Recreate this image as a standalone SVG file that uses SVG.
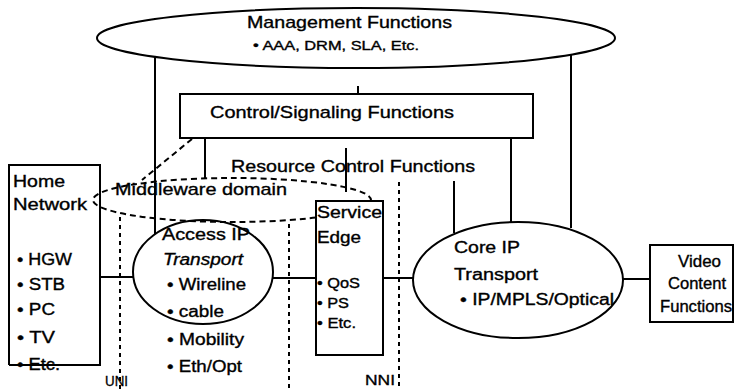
<svg xmlns="http://www.w3.org/2000/svg" width="735" height="390" viewBox="0 0 735 390">
<style>
text{font-family:"Liberation Sans",Arial,sans-serif;fill:#000;stroke:#000;stroke-width:0.35}
.s{fill:none;stroke:#000;stroke-width:2}
.w{fill:#fff;stroke:#000;stroke-width:2}
.dash{fill:none;stroke:#000;stroke-width:2;stroke-dasharray:6 4}
.dot{fill:none;stroke:#000;stroke-width:2;stroke-dasharray:4 4}
.t17{font-size:17px}
.t16{font-size:16px}
.t15{font-size:15px}
.t14{font-size:14px}
.t13{font-size:13px}
</style>
<rect width="735" height="390" fill="#fff"/>
<g id="connectors">
  <line class="s" x1="155" y1="57" x2="155" y2="234"/>
  <line class="s" x1="571" y1="55" x2="571" y2="228"/>
  <line class="s" x1="358" y1="86" x2="358" y2="95"/>
  <line class="s" x1="205" y1="138" x2="205" y2="178"/>
  <line class="s" x1="511" y1="138" x2="511" y2="222"/>
  <line class="s" x1="346" y1="148" x2="346" y2="192"/>
  <line class="s" x1="454" y1="181" x2="454" y2="233"/>
  <line class="dash" x1="192" y1="139" x2="142" y2="180"/>
  <line class="s" x1="100" y1="277" x2="133" y2="277"/>
  <line class="s" x1="272" y1="278" x2="316" y2="278"/>
  <line class="s" x1="383" y1="278" x2="414" y2="278"/>
  <line class="s" x1="623" y1="279" x2="650" y2="279"/>
  <line class="dot" x1="120" y1="217" x2="120" y2="390"/>
  <line class="dot" x1="289" y1="224" x2="289" y2="390"/>
  <line class="dot" x1="399" y1="182" x2="399" y2="390"/>
</g>
<g id="management">
  <ellipse class="s" cx="356" cy="38" rx="259" ry="30"/>
  <text class="t17" x="247" y="28" textLength="205" lengthAdjust="spacingAndGlyphs">Management Functions</text>
  <text class="t13" x="253" y="50" textLength="166" lengthAdjust="spacingAndGlyphs">• AAA, DRM, SLA, Etc.</text>
</g>
<g id="control">
  <rect class="w" x="180" y="94" width="353" height="44"/>
  <text class="t17" x="210" y="118" textLength="244" lengthAdjust="spacingAndGlyphs">Control/Signaling Functions</text>
</g>
<g id="resource">
  <text class="t17" x="231" y="172" textLength="244" lengthAdjust="spacingAndGlyphs">Resource Control Functions</text>
</g>
<g id="middleware">
  <ellipse class="dash" cx="232" cy="200" rx="139" ry="22"/>
  <text class="t17" x="115" y="195" textLength="172" lengthAdjust="spacingAndGlyphs">Middleware domain</text>
</g>
<g id="home">
  <polyline class="s" points="9,365 9,165 100,165 100,365 9,365"/>
  <text class="t16" x="13" y="187" textLength="52" lengthAdjust="spacingAndGlyphs">Home</text>
  <text class="t16" x="13" y="210" textLength="74" lengthAdjust="spacingAndGlyphs">Network</text>
  <text class="t16" x="17" y="265" textLength="55" lengthAdjust="spacingAndGlyphs">• HGW</text>
  <text class="t16" x="17" y="290" textLength="48" lengthAdjust="spacingAndGlyphs">• STB</text>
  <text class="t16" x="17" y="315" textLength="38" lengthAdjust="spacingAndGlyphs">• PC</text>
  <text class="t16" x="17" y="343" textLength="38" lengthAdjust="spacingAndGlyphs">• TV</text>
  <text class="t16" x="17" y="370" textLength="43" lengthAdjust="spacingAndGlyphs">• Etc.</text>
</g>
<g id="access">
  <ellipse class="s" cx="203" cy="272" rx="70" ry="52"/>
  <text class="t16" x="162" y="240" textLength="88" lengthAdjust="spacingAndGlyphs">Access IP</text>
  <text class="t16" x="163" y="265" font-style="italic" textLength="80" lengthAdjust="spacingAndGlyphs">Transport</text>
  <text class="t16" x="167" y="290" textLength="79" lengthAdjust="spacingAndGlyphs">• Wireline</text>
  <text class="t16" x="167" y="317" textLength="57" lengthAdjust="spacingAndGlyphs">• cable</text>
  <text class="t16" x="167" y="345" textLength="77" lengthAdjust="spacingAndGlyphs">• Mobility</text>
  <text class="t16" x="167" y="372" textLength="75" lengthAdjust="spacingAndGlyphs">• Eth/Opt</text>
</g>
<g id="service-edge">
  <rect class="w" x="316" y="201" width="67" height="154"/>
  <text class="t16" x="317" y="218" textLength="65" lengthAdjust="spacingAndGlyphs">Service</text>
  <text class="t16" x="317" y="243" textLength="44" lengthAdjust="spacingAndGlyphs">Edge</text>
  <text class="t14" x="317" y="288" textLength="43" lengthAdjust="spacingAndGlyphs">• QoS</text>
  <text class="t14" x="317" y="308" textLength="32" lengthAdjust="spacingAndGlyphs">• PS</text>
  <text class="t14" x="317" y="328" textLength="39" lengthAdjust="spacingAndGlyphs">• Etc.</text>
</g>
<g id="core">
  <ellipse class="s" cx="518" cy="280" rx="105" ry="58"/>
  <text class="t16" x="454" y="253" textLength="66" lengthAdjust="spacingAndGlyphs">Core IP</text>
  <text class="t16" x="454" y="280" textLength="84" lengthAdjust="spacingAndGlyphs">Transport</text>
  <text class="t16" x="460" y="305" textLength="154" lengthAdjust="spacingAndGlyphs">• IP/MPLS/Optical</text>
</g>
<g id="video">
  <rect class="w" x="650" y="245" width="83" height="77"/>
  <text class="t16" x="678" y="267" textLength="43" lengthAdjust="spacingAndGlyphs">Video</text>
  <text class="t16" x="668" y="289" textLength="58" lengthAdjust="spacingAndGlyphs">Content</text>
  <text class="t16" x="660" y="312" textLength="72" lengthAdjust="spacingAndGlyphs">Functions</text>
</g>
<g id="labels">
  <text class="t15" x="105" y="386" textLength="23" lengthAdjust="spacingAndGlyphs">UNI</text>
  <text class="t15" x="365" y="385" textLength="30" lengthAdjust="spacingAndGlyphs">NNI</text>
</g>
</svg>
